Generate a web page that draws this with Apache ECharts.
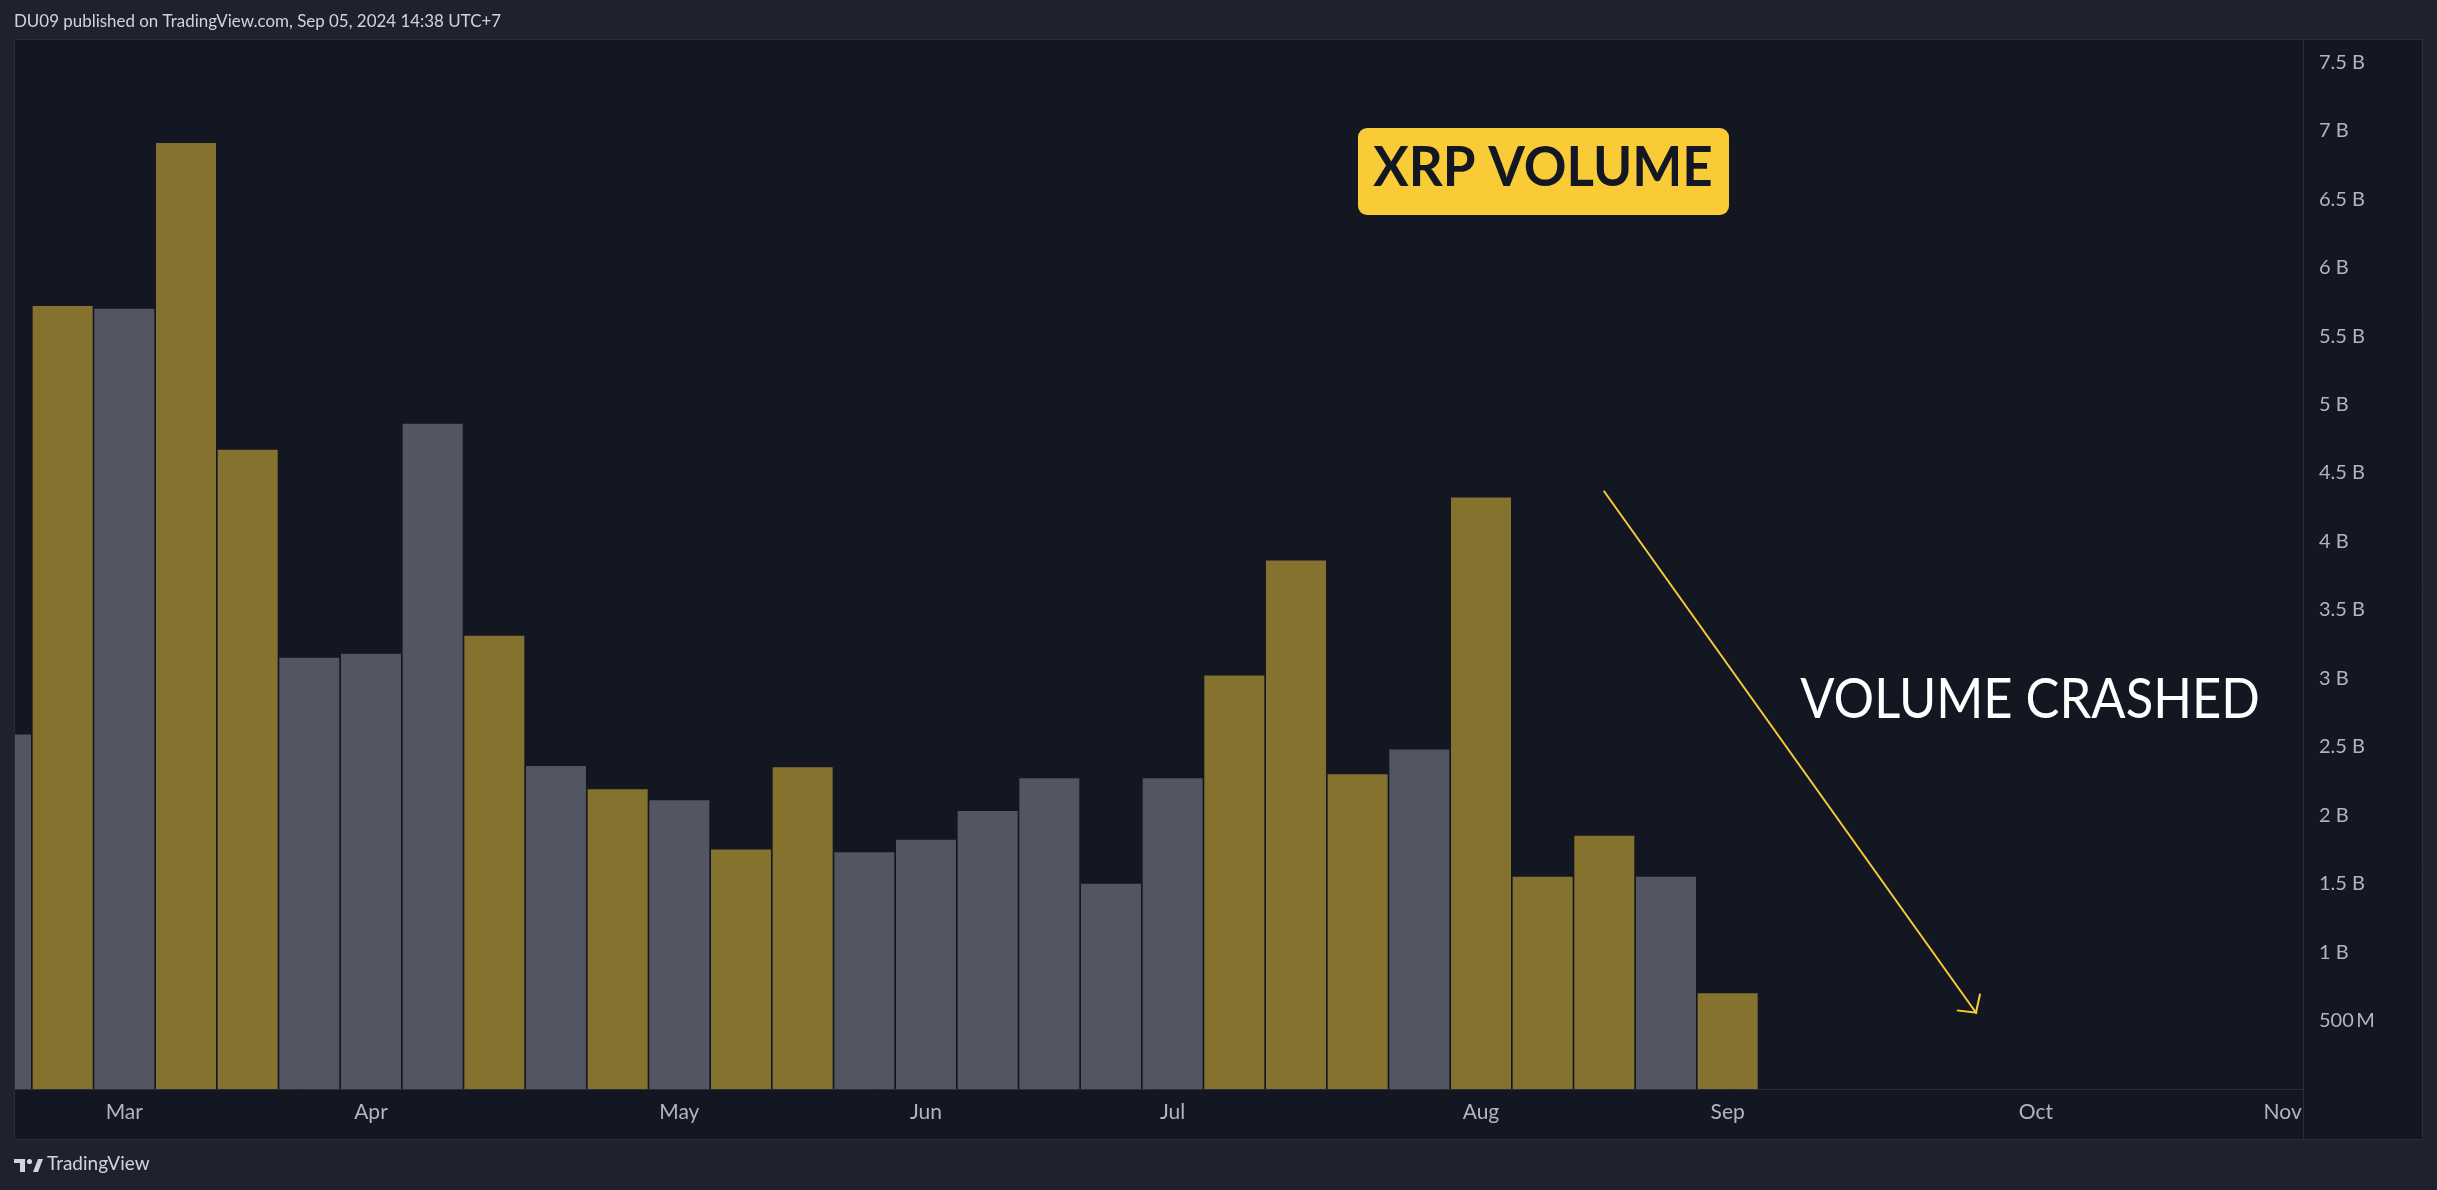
<!DOCTYPE html>
<html>
<head>
<meta charset="utf-8">
<title>XRP Volume</title>
<script src="https://cdn.jsdelivr.net/npm/echarts@6/dist/echarts.min.js"></script>
<style>
	html, body {
		margin: 0;
		padding: 0;
		background: #1e222d;
	}
	#volChart {
		width: 2437px;
		height: 1190px;
	}
</style>
</head>
<body>
<div id="volChart"></div>
<script>
	// weekly bars (monday of each week), index 0 = first week on the chart
	var weeks = ['2024-02-19', '2024-02-26', '2024-03-04', '2024-03-11', '2024-03-18', '2024-03-25',
		'2024-04-01', '2024-04-08', '2024-04-15', '2024-04-22', '2024-04-29', '2024-05-06',
		'2024-05-13', '2024-05-20', '2024-05-27', '2024-06-03', '2024-06-10', '2024-06-17',
		'2024-06-24', '2024-07-01', '2024-07-08', '2024-07-15', '2024-07-22', '2024-07-29',
		'2024-08-05', '2024-08-12', '2024-08-19', '2024-08-26', '2024-09-02'];
	// volume in billions
	var volumes = [2.59, 5.72, 5.70, 6.91, 4.67, 3.15, 3.18, 4.86, 3.31, 2.36, 2.19, 2.11, 1.75, 2.35,
		1.73, 1.82, 2.03, 2.27, 1.50, 2.27, 3.02, 3.86, 2.30, 2.48, 4.32, 1.55, 1.85, 1.55, 0.70];
	// 1 = up week (gold), 0 = down week (grey)
	var upWeek = [0, 1, 0, 1, 1, 0, 0, 0, 1, 0, 1, 0, 1, 1, 0, 0, 0, 0, 0, 0, 1, 1, 1, 0, 1, 1, 1, 0, 1];

	// month labels on the time axis and the week index they sit on
	var monthLabels = ['Mar', 'Apr', 'May', 'Jun', 'Jul', 'Aug', 'Sep', 'Oct', 'Nov'];
	var monthIdx = [2, 6, 11, 15, 19, 24, 28, 33, 37];

	// arrow annotation: [week index, volume]
	var arrowFrom = [25.99, 4.37];
	var arrowTo = [32.04, 0.55];

	var upColor = '#86722f';
	var downColor = '#535662';
	var font = 'Lato, "Noto Sans", sans-serif';

	var barData = [];
	for (var i = 0; i < volumes.length; i++) {
		barData.push({
			value: [i, volumes[i]],
			itemStyle: { color: upWeek[i] ? upColor : downColor }
		});
	}

	// open chevron, tip in the middle of the symbol box so it lands on the end point
	var chevron = 'path://M15,-15 L15.02,-15 L15,-14.98 Z M15,0 L30,13.6 L28.6,15 L15,2.8 L1.4,15 L0,13.6 Z';

	var myChart = echarts.init(document.getElementById('volChart'), null, { renderer: 'canvas' });

	myChart.setOption({
		backgroundColor: '#1e222d',
		animation: false,
		textStyle: { fontFamily: font },
		grid: {
			left: 14,
			top: 39,
			right: 134,
			bottom: 101,
			containLabel: false
		},
		xAxis: {
			type: 'value',
			min: 0.211,
			max: 37.33,
			axisLine: { show: true, lineStyle: { color: '#2a2e39', width: 1 } },
			axisTick: { show: false },
			splitLine: { show: false },
			axisLabel: {
				customValues: monthIdx,
				color: '#b2b5be',
				fontSize: 21,
				fontFamily: font,
				margin: 13,
				formatter: function (v) {
					var k = monthIdx.indexOf(Math.round(v));
					return k >= 0 ? monthLabels[k] : '';
				}
			}
		},
		yAxis: {
			type: 'value',
			position: 'right',
			min: 0,
			max: 7.67,
			interval: 0.5,
			axisLine: { show: true, lineStyle: { color: '#2a2e39', width: 1 } },
			axisTick: { show: false },
			splitLine: { show: false },
			axisLabel: {
				color: '#b2b5be',
				fontSize: 20,
				fontFamily: font,
				margin: 16,
				align: 'left',
				formatter: function (v) {
					var half = Math.round(v * 2);
					if (half === 0 || Math.abs(v * 2 - half) > 1e-6) return '';
					if (v < 1) return Math.round(v * 1000) + '\u2009M';
					return (half / 2) + ' B';
				}
			}
		},
		graphic: [
			// pane frame
			{
				type: 'rect', z: -10, silent: true,
				shape: { x: 14.5, y: 39.5, width: 2408, height: 1100 },
				style: { fill: '#131722', stroke: '#2a2e39', lineWidth: 1 }
			},
			{
				type: 'line', z: -5, silent: true,
				shape: { x1: 2303.5, y1: 1089, x2: 2303.5, y2: 1139 },
				style: { stroke: '#2a2e39', lineWidth: 1 }
			},
			// the first week is cut by the pane's left edge
			{
				type: 'rect', z: 100, silent: true,
				shape: { x: 0, y: 38, width: 14, height: 1103 },
				style: { fill: '#1e222d' }
			},
			{
				type: 'line', z: 101, silent: true,
				shape: { x1: 14.5, y1: 39, x2: 14.5, y2: 1140 },
				style: { stroke: '#2a2e39', lineWidth: 1 }
			},
			// header
			{
				type: 'text', silent: true,
				originX: 14, originY: 21, scaleX: 0.94,
				style: {
					x: 14, y: 21, verticalAlign: 'middle',
					text: 'DU09 published on TradingView.com, Sep 05, 2024 14:38 UTC+7',
					fill: '#d1d4dc', font: '18px ' + font
				}
			},
			// footer logo
			{
				type: 'group', silent: true,
				children: [
					{ type: 'rect', shape: { x: 14, y: 1159, width: 11, height: 4 }, style: { fill: '#d1d4dc' } },
					{ type: 'rect', shape: { x: 20, y: 1159, width: 5, height: 13 }, style: { fill: '#d1d4dc' } },
					{ type: 'circle', shape: { cx: 29.5, cy: 1161.5, r: 2.6 }, style: { fill: '#d1d4dc' } },
					{ type: 'polygon', shape: { points: [[33, 1172], [38, 1172], [43, 1159], [38, 1159]] }, style: { fill: '#d1d4dc' } }
				]
			},
			{
				type: 'text', left: 47, top: 1154, silent: true,
				style: { text: 'TradingView', fill: '#d1d4dc', font: '19px ' + font }
			},
			// title badge
			{
				type: 'group', silent: true,
				children: [
					{
						type: 'rect',
						shape: { x: 1358, y: 128, width: 371, height: 87, r: 9 },
						style: { fill: '#f9cb36' }
					},
					{
						type: 'text',
						originX: 1543, originY: 168, scaleX: 0.945,
						style: {
							x: 1543, y: 168, text: 'XRP VOLUME',
							fill: '#131722', font: 'bold 56px ' + font,
							align: 'center', verticalAlign: 'middle'
						}
					}
				]
			},
			{
				type: 'text', silent: true,
				originX: 2030, originY: 700, scaleX: 0.89,
				style: {
					x: 2030, y: 700, text: 'VOLUME CRASHED',
					fill: '#ffffff', font: '57px ' + font,
					align: 'center', verticalAlign: 'middle'
				}
			}
		],
		series: [{
			name: 'Volume',
			type: 'bar',
			barWidth: 60,
			data: barData,
			clip: true,
			markLine: {
				silent: true,
				animation: false,
				symbol: ['none', chevron],
				symbolSize: [30, 30],
				label: { show: false },
				lineStyle: { color: '#f9cb36', width: 2, type: 'solid' },
				data: [[
					{ coord: arrowFrom },
					{ coord: arrowTo }
				]]
			}
		}]
	});
</script>
</body>
</html>
